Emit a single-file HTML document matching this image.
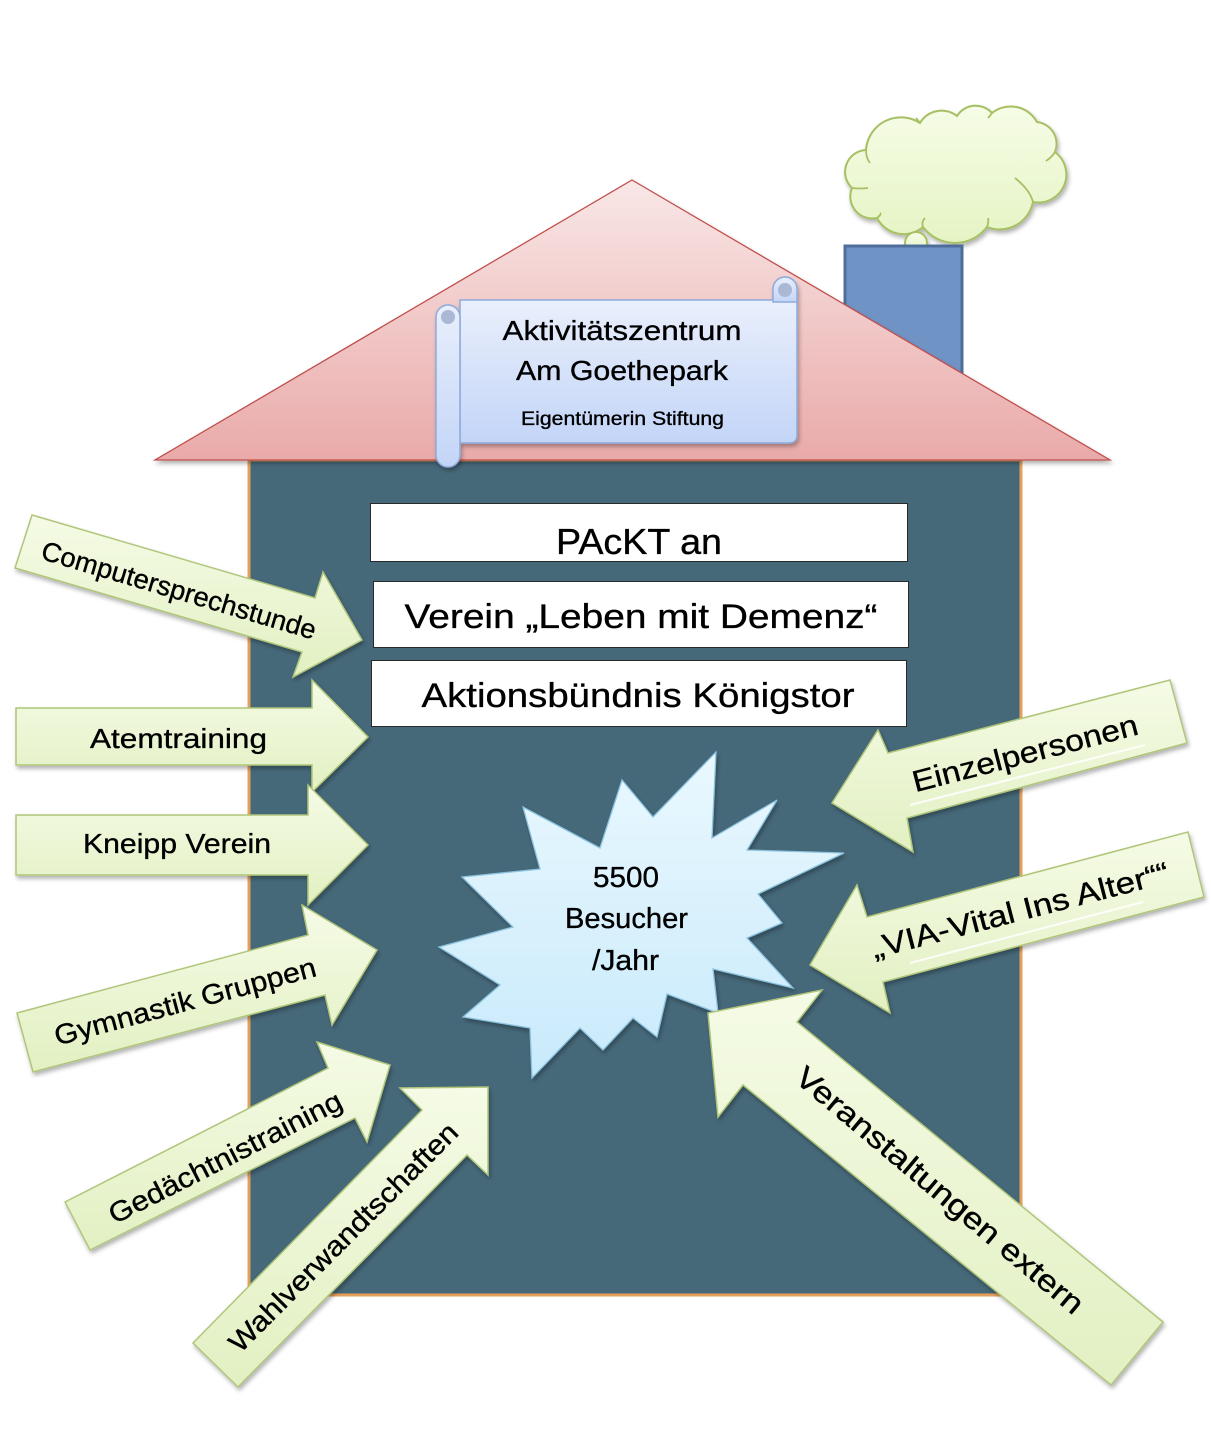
<!DOCTYPE html>
<html>
<head>
<meta charset="utf-8">
<style>
html,body{margin:0;padding:0;background:#fff;}
svg{display:block;}
text{font-family:"Liberation Sans","DejaVu Sans",sans-serif;fill:#000;stroke:#000;stroke-width:0.35;}
</style>
</head>
<body>
<svg width="1211" height="1437" viewBox="0 0 1211 1437" xmlns="http://www.w3.org/2000/svg">
<defs>
  <linearGradient id="roof" x1="0" y1="0" x2="0" y2="1">
    <stop offset="0" stop-color="#f9e7e7"/>
    <stop offset="1" stop-color="#e9aaa9"/>
  </linearGradient>
  <linearGradient id="arr" x1="0" y1="0" x2="0" y2="1">
    <stop offset="0" stop-color="#f5fbe6"/>
    <stop offset="1" stop-color="#e2f0c2"/>
  </linearGradient>
  <linearGradient id="cloud" x1="0" y1="0" x2="0" y2="1">
    <stop offset="0" stop-color="#f6fce6"/>
    <stop offset="1" stop-color="#e5f4c4"/>
  </linearGradient>
  <linearGradient id="scroll" x1="0" y1="0" x2="0" y2="1">
    <stop offset="0" stop-color="#e9effc"/>
    <stop offset="1" stop-color="#c3d5f7"/>
  </linearGradient>
  <linearGradient id="star" x1="0" y1="0" x2="0" y2="1">
    <stop offset="0" stop-color="#eaf8fe"/>
    <stop offset="1" stop-color="#c8eafb"/>
  </linearGradient>
  <filter id="sh" x="-10%" y="-10%" width="130%" height="130%">
    <feDropShadow dx="1.5" dy="3" stdDeviation="2" flood-color="#000" flood-opacity="0.3"/>
  </filter>
</defs>

<!-- cloud -->
<g filter="url(#sh)">
<path d="M852,188 A22,22 0 0 1 866,150 A35,35 0 0 1 920,123 A25,25 0 0 1 957,116 A22,22 0 0 1 992,113 A30,30 0 0 1 1037,122 A22,22 0 0 1 1055,152 A28,28 0 0 1 1033,202 A34,34 0 0 1 987,227 A40,40 0 0 1 923,227 A30,30 0 0 1 877,218 A22,22 0 0 1 852,188 Z" fill="url(#cloud)" stroke="#a6c063" stroke-width="2"/>
<circle cx="916" cy="243" r="11" fill="url(#cloud)" stroke="#a6c063" stroke-width="2"/>
</g>
<g fill="none" stroke="#a6c063" stroke-width="1.8">
  <path d="M866,150 Q866,158 870,163"/>
  <path d="M852,188 Q860,189 868,188"/>
  <path d="M877,218 Q882,214 880,213"/>
  <path d="M923,227 Q921,222 925,218"/>
  <path d="M987,227 Q989,222 988,218"/>
  <path d="M1033,202 Q1030,190 1015,178"/>
  <path d="M1055,152 Q1052,157 1046,161"/>
  <path d="M920,123 Q918,120 916,118"/>
  <path d="M992,113 Q990,116 988,118"/>
</g>

<!-- chimney -->
<rect x="845" y="246" width="117" height="170" fill="#7093c6" stroke="#4f6d9b" stroke-width="3"/>

<!-- house body -->
<rect x="249" y="460" width="772" height="835" fill="#46697a" stroke="#e4a05b" stroke-width="3"/>

<!-- roof -->
<polygon points="632,180 1110,460 155,460" fill="url(#roof)" stroke="#c0504d" stroke-width="1.3" filter="url(#sh)"/>

<!-- scroll -->
<g filter="url(#sh)">
<path d="M460,300 H797 V435 Q797,443 789,443 H460 Z" fill="url(#scroll)" stroke="#8eaadb" stroke-width="1.5"/>
<path d="M773,302 V289 A12,12 0 0 1 797,289 V302 Z" fill="url(#scroll)" stroke="#8eaadb" stroke-width="1.5"/>
<circle cx="785" cy="290" r="7" fill="#aab8d4"/>
<rect x="436" y="305" width="24" height="162" rx="12" fill="url(#scroll)" stroke="#8eaadb" stroke-width="1.5"/>
<circle cx="448" cy="317" r="7" fill="#aab8d4"/>
</g>
<text x="622" y="340" font-size="28" text-anchor="middle" textLength="239" lengthAdjust="spacingAndGlyphs">Aktivitätszentrum</text>
<text x="622" y="380" font-size="28" text-anchor="middle" textLength="212" lengthAdjust="spacingAndGlyphs">Am Goethepark</text>
<text x="622.5" y="425" font-size="19" text-anchor="middle" textLength="203" lengthAdjust="spacingAndGlyphs">Eigentümerin Stiftung</text>

<!-- boxes -->
<rect x="370.5" y="503.5" width="537" height="58" fill="#fff" stroke="#2a2a2a" stroke-width="1"/>
<rect x="373.5" y="581.5" width="535" height="66" fill="#fff" stroke="#2a2a2a" stroke-width="1"/>
<rect x="371.5" y="660.5" width="535" height="66" fill="#fff" stroke="#2a2a2a" stroke-width="1"/>
<text x="639" y="554" font-size="36" text-anchor="middle" textLength="166" lengthAdjust="spacingAndGlyphs">PAcKT an</text>
<text x="641" y="628" font-size="34" text-anchor="middle" textLength="473" lengthAdjust="spacingAndGlyphs">Verein „Leben mit Demenz“</text>
<text x="638" y="707" font-size="34" text-anchor="middle" textLength="433" lengthAdjust="spacingAndGlyphs">Aktionsbündnis Königstor</text>

<!-- star -->
<polygon points="716,752 712,838 777,800 747,850 844,853 758,894 782,923 747,938 793,988 713,969 718,1013 667,994 657,1037 633,1018 603,1050 580,1028 532,1078 530,1028 463,1017 500,985 439,947 513,927 462,877 540,869 523,807 600,848 622,780 653,817" fill="url(#star)" stroke="#8cc3df" stroke-width="1.3" filter="url(#sh)"/>
<text x="626" y="887" font-size="29" text-anchor="middle" textLength="66" lengthAdjust="spacingAndGlyphs">5500</text>
<text x="626.5" y="928" font-size="29" text-anchor="middle" textLength="123" lengthAdjust="spacingAndGlyphs">Besucher</text>
<text x="625.5" y="970" font-size="29" text-anchor="middle" textLength="67" lengthAdjust="spacingAndGlyphs">/Jahr</text>

<!-- arrows -->
<g fill="url(#arr)" stroke="#afc67a" stroke-width="1.5" filter="url(#sh)">
  <polygon points="32,515 315,598 323,572 362,640 293,677 302,652 15,568"/>
  <polygon points="16,708 312,708 312,680 368,737 312,792 312,765 16,765"/>
  <polygon points="16,815 308,815 308,785 368,845 308,905 308,875 16,875"/>
  <polygon points="17,1013 308,935 302,905 377,950 332,1025 325,995 33,1072"/>
  <polygon points="65,1202 328,1068 317,1042 390,1065 367,1142 355,1118 90,1250"/>
  <polygon points="193,1343 422,1110 400,1088 488,1087 488,1175 467,1155 238,1387"/>
  <polygon points="832,803 878,730 888,753 1170,680 1187,743 907,818 913,852"/>
  <polygon points="810,965 857,885 867,917 1188,832 1204,897 883,982 890,1013"/>
  <polygon points="708,1013 822,990 797,1022 1163,1322 1111,1385 743,1085 718,1117"/>
</g>

<!-- white underlines -->
<line x1="910" y1="805" x2="1145" y2="745" stroke="#fff" stroke-width="2" opacity="0.9"/>
<line x1="910" y1="963" x2="1143" y2="902" stroke="#fff" stroke-width="2" opacity="0.9"/>

<!-- arrow labels -->
<text x="178.5" y="748" font-size="28" text-anchor="middle" textLength="177" lengthAdjust="spacingAndGlyphs">Atemtraining</text>
<text x="177" y="853" font-size="28" text-anchor="middle" textLength="188" lengthAdjust="spacingAndGlyphs">Kneipp Verein</text>
<text transform="translate(179,590) rotate(16.5)" x="0" y="9.5" font-size="27" text-anchor="middle" textLength="285" lengthAdjust="spacingAndGlyphs">Computersprechstunde</text>
<text transform="translate(185,1001) rotate(-15)" x="0" y="10" font-size="28" text-anchor="middle" textLength="270" lengthAdjust="spacingAndGlyphs">Gymnastik Gruppen</text>
<text transform="translate(225,1157) rotate(-27)" x="0" y="10" font-size="28" text-anchor="middle" textLength="258" lengthAdjust="spacingAndGlyphs">Gedächtnistraining</text>
<text transform="translate(343,1237) rotate(-45)" x="0" y="10" font-size="28" text-anchor="middle" textLength="311" lengthAdjust="spacingAndGlyphs">Wahlverwandtschaften</text>
<text transform="translate(1025,753) rotate(-14.5)" x="0" y="10.5" font-size="30" text-anchor="middle" textLength="232" lengthAdjust="spacingAndGlyphs">Einzelpersonen</text>
<text transform="translate(1020,910) rotate(-14.5)" x="0" y="10.5" font-size="30" text-anchor="middle" textLength="306" lengthAdjust="spacingAndGlyphs">„VIA-Vital Ins Alter““</text>
<text transform="translate(940,1190) rotate(40)" x="0" y="10.5" font-size="30" text-anchor="middle" textLength="366" lengthAdjust="spacingAndGlyphs">Veranstaltungen extern</text>
</svg>
</body>
</html>
